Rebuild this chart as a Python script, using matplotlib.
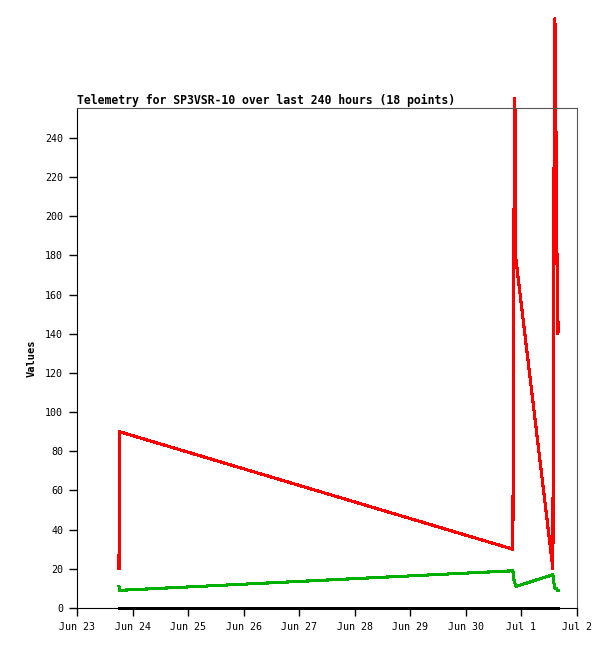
import datetime as dt
import matplotlib
matplotlib.use("Agg")
import matplotlib.pyplot as plt
import matplotlib.dates as mdates
from matplotlib.ticker import FuncFormatter, MultipleLocator

# telemetry samples, hours after Jun 23 00:00
hours = [18.14, 18.36, 188.3, 188.54, 188.98, 189.4, 189.62, 205.6,
         205.82, 206.46, 207.1, 207.54, 207.76, 207.98]
red_vals = [20, 90, 30, 120, 260, 250, 178, 20, 171, 301, 220, 150, 140, 146]
green_vals = [11, 9, 19, 16, 13, 12, 11, 17, 14, 10, 10, 9, 9, 9]
black_vals = [0] * len(hours)

start = dt.datetime(2021, 6, 23)
times = [start + dt.timedelta(hours=h) for h in hours]

plt.rcParams['font.family'] = ['DejaVu Sans Mono']

fig = plt.figure(figsize=(6.15, 6.49), dpi=100)
ax = fig.add_axes([0.1252, 0.0632, 0.813, 0.7704])

ax.plot(times, black_vals, color='black', lw=2.0, antialiased=False, clip_on=False)
ax.plot(times, green_vals, color='#00b000', lw=1.5, antialiased=False, clip_on=False)
ax.plot(times, red_vals, color='#ff0000', lw=1.5, antialiased=False, clip_on=False)

ax.set_xlim(start, start + dt.timedelta(days=9))
ax.set_ylim(0, 255.3)

ax.xaxis.set_major_locator(mdates.DayLocator())
ax.xaxis.set_major_formatter(FuncFormatter(
    lambda v, p: mdates.num2date(v).strftime('%b ') + str(mdates.num2date(v).day)))
ax.yaxis.set_major_locator(MultipleLocator(20))

ax.tick_params(direction='out', length=6, width=1, labelsize=7.2, pad=4)
for s in ['top', 'right']:
    ax.spines[s].set_color('#555555')
for s in ['left', 'bottom']:
    ax.spines[s].set_color('black')

ax.set_ylabel('Values', fontsize=7.5, fontweight='bold', labelpad=6)
ax.set_title('Telemetry for SP3VSR-10 over last 240 hours (18 points)',
             loc='left', fontsize=8.3, fontweight='bold', pad=3)

fig.savefig('out.png', dpi=100)
